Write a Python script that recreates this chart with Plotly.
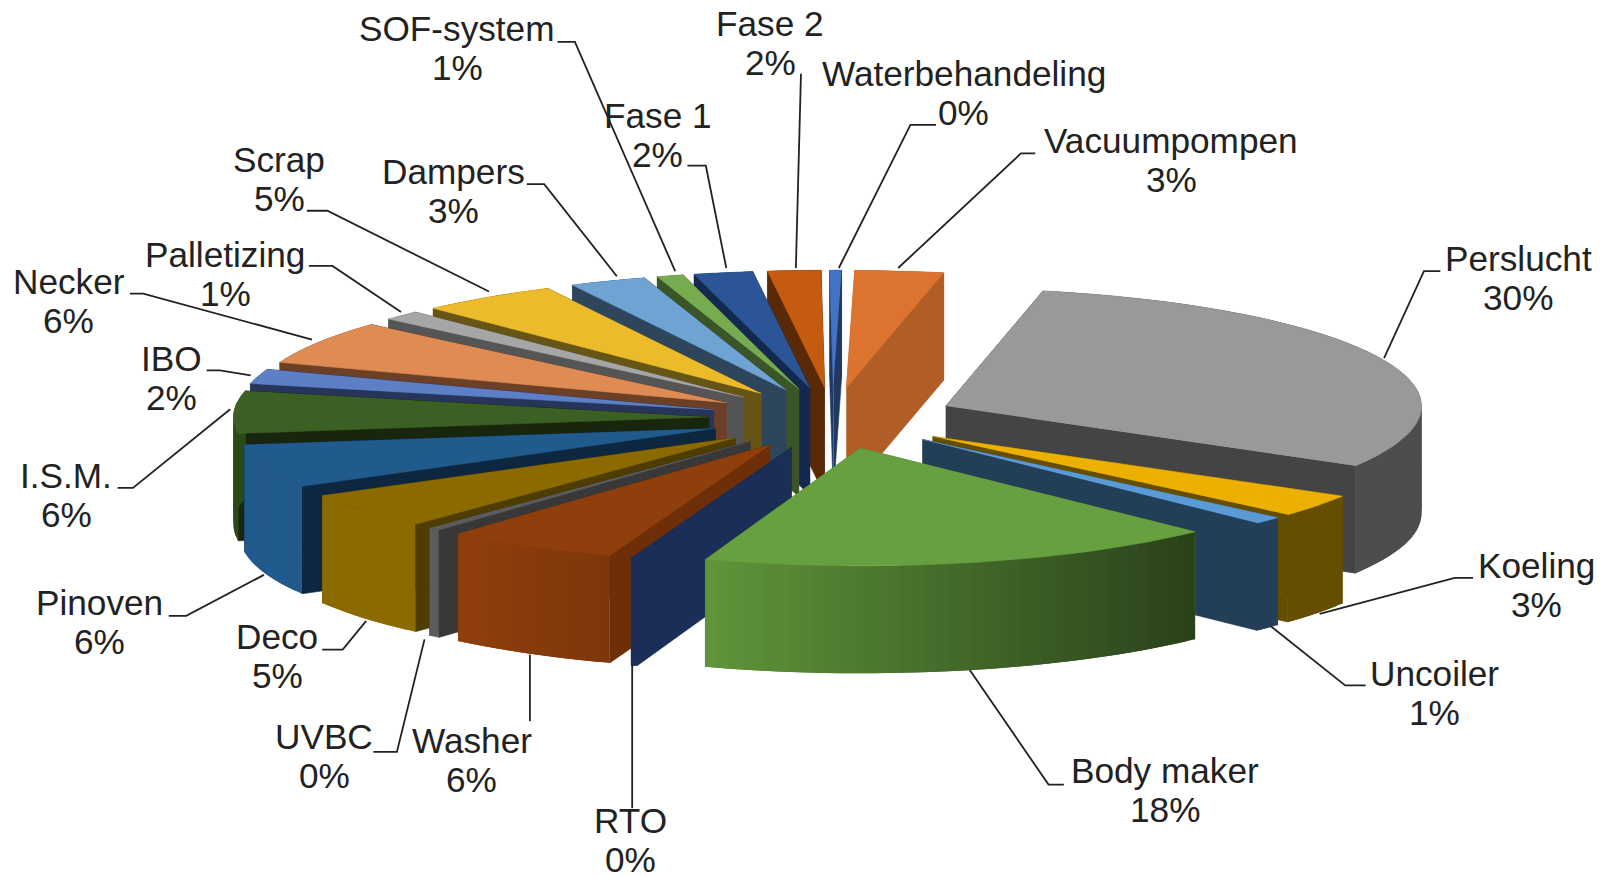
import numpy as np
from plotly import graph_objects as go

# clockwise from the top of the pie
categories = ["Vacuumpompen", "Perslucht", "Koeling", "Uncoiler", "Body maker", "RTO", "Washer",
              "UVBC", "Deco", "Pinoven", "I.S.M.", "IBO", "Necker", "Palletizing", "Scrap",
              "Dampers", "SOF-system", "Fase 1", "Fase 2", "Waterbehandeling"]
percent_labels = ["3%", "30%", "3%", "1%", "18%", "0%", "6%", "0%", "5%", "6%", "6%", "2%", "6%",
                  "1%", "5%", "3%", "1%", "2%", "2%", "0%"]
# shares, the labels are rounded
shares = [3.0, 30.2, 3.1, 1.0, 17.7, 0.2, 5.9, 0.4, 5.0, 6.0, 5.8, 2.0, 6.0, 1.3, 4.7, 2.6, 0.9, 2.0, 1.8, 0.4]

top_colors = ["#DC7430", "#999999", "#EBB000", "#5B9BD5", "#67A040", "#1B2E57", "#8F3F0B", "#5C5C5C",
              "#8B6A00", "#215A8C", "#3C6024", "#5D7FC6", "#DF8B54", "#A6A6A6", "#ECBB2C", "#6FA3D3",
              "#76AB50", "#2C5597", "#C55A11", "#4472C4"]
cut_colors = ["#B05E25", "#444444", "#654E00", "#233F57", "#4F7A31", "#1B2E57", "#6E2F08", "#383838",
              "#4E3C00", "#0E2740", "#17260D", "#263559", "#6B4027", "#555555", "#665514", "#2E465C",
              "#3A5527", "#14294F", "#5A2A08", "#1F3864"]
rim_left = ["#B05E25", "#4D4D4D", "#654E00", "#233F57", "#5F953A", "#1B2E57", "#8F3F0B", "#5C5C5C",
            "#8B6A00", "#215A8C", "#2C4A18", "#263559", "#6B4027", "#555555", "#665514", "#2E465C",
            "#3A5527", "#14294F", "#5A2A08", "#1F3864"]
rim_right = ["#B05E25", "#4D4D4D", "#654E00", "#233F57", "#2A411A", "#1B2E57", "#7E360A", "#5C5C5C",
             "#8B6A00", "#215A8C", "#2C4A18", "#263559", "#6B4027", "#555555", "#665514", "#2E465C",
             "#3A5527", "#14294F", "#5A2A08", "#1F3864"]

# where the text sits, and the bend of each leader line, in page pixels of the 1568 wide view
label_x = [1145, 1484, 1502, 1402, 1139, 616, 461, 317, 271, 97, 65, 168, 67, 220, 273, 443, 447, 643, 753, 942]
label_y = [156, 272, 572, 677, 772, 821, 743, 739, 641, 608, 484, 370, 294, 268, 175, 187, 47, 132, 42, 91]
leader_paths = [
    [(1012, 150), (998, 150), (878, 262)],
    [(1408, 265), (1392, 265), (1353, 350)],
    [(1440, 565), (1422, 565), (1290, 600)],
    [(1335, 670), (1315, 670), (1242, 612)],
    [(1040, 767), (1025, 767), (948, 655)],
    [(618, 790), (618, 650)],
    [(518, 705), (518, 640)],
    [(365, 735), (388, 735), (415, 625)],
    [(315, 635), (335, 635), (358, 607)],
    [(165, 602), (182, 602), (258, 562)],
    [(115, 477), (130, 477), (225, 400)],
    [(202, 362), (215, 362), (245, 367)],
    [(127, 287), (140, 287), (305, 332)],
    [(302, 260), (325, 260), (392, 305)],
    [(300, 206), (320, 206), (478, 285)],
    [(515, 180), (532, 180), (603, 270)],
    [(545, 41), (562, 41), (660, 265)],
    [(672, 162), (690, 162), (710, 262)],
    [(783, 72), (778, 262)],
    [(915, 122), (890, 122), (820, 262)],
]

SCALE = 1604 / 1568
CX, CY = 814 * SCALE, 409 * SCALE
RX, RY = 465 * SCALE, 115 * SCALE
DEPTH = 105 * SCALE
EXPLODE = 0.26
START_DEG = 1.0
FONT = "Liberation Sans, Arial, sans-serif"


def blend(c1, c2, t):
    a = [int(c1[i:i + 2], 16) for i in (1, 3, 5)]
    b = [int(c2[i:i + 2], 16) for i in (1, 3, 5)]
    return "#%02x%02x%02x" % tuple(round(p + (q - p) * t) for p, q in zip(a, b))


def add_poly(fig, xs, ys, color, width=0.6):
    fig.add_trace(go.Scatter(x=list(xs), y=list(ys), mode="lines", fill="toself", fillcolor=color,
                             line=dict(color=color, width=width), hoverinfo="skip", showlegend=False))


def draw_slice(fig, i, a0, a1):
    mid = (a0 + a1) / 2
    ox = CX + EXPLODE * RX * np.sin(mid)
    oy = CY - EXPLODE * RY * np.cos(mid)
    angles = np.linspace(a0, a1, max(3, int(np.degrees(a1 - a0) / 1.5) + 2))
    rim_x = ox + RX * np.sin(angles)
    rim_y = oy - RY * np.cos(angles)

    # the two cut faces
    for k in (0, -1):
        add_poly(fig, [ox, rim_x[k], rim_x[k], ox], [oy, rim_y[k], rim_y[k] + DEPTH, oy + DEPTH], cut_colors[i])

    # outer wall in overlapping strips, one polygon would cancel itself where the rim turns back
    x_lo, x_hi = rim_x.min(), rim_x.max()
    for k in range(len(angles) - 1):
        j = min(k + 3, len(angles))
        t = ((rim_x[k] + rim_x[k + 1]) / 2 - x_lo) / max(x_hi - x_lo, 1)
        add_poly(fig, np.r_[rim_x[k:j], rim_x[k:j][::-1]], np.r_[rim_y[k:j], rim_y[k:j][::-1] + DEPTH],
                 blend(rim_left[i], rim_right[i], t), width=0)

    add_poly(fig, np.r_[ox, rim_x], np.r_[oy, rim_y], top_colors[i])


edges = np.radians(START_DEG) + np.r_[0, np.cumsum(shares)] / sum(shares) * 2 * np.pi
mids = (edges[:-1] + edges[1:]) / 2

fig = go.Figure()
# back slices first, the front ones paint over them
for i in sorted(range(len(shares)), key=lambda n: -np.cos(mids[n])):
    draw_slice(fig, i, edges[i], edges[i + 1])

for path in leader_paths:
    fig.add_trace(go.Scatter(x=[p[0] * SCALE for p in path], y=[p[1] * SCALE for p in path], mode="lines",
                             line=dict(color="#222222", width=1.8), hoverinfo="skip", showlegend=False))

annotations = []
for name, pct, lx, ly in zip(categories, percent_labels, label_x, label_y):
    for text, off in ((name, -19.5), (pct, 19.5)):
        annotations.append(dict(x=lx * SCALE, y=ly * SCALE + off, text=text, showarrow=False, xanchor="center",
                                yanchor="middle", font=dict(family=FONT, size=35.2, color="#222222")))

fig.update_layout(
    width=1604,
    height=878,
    margin=dict(l=0, r=0, t=0, b=0),
    paper_bgcolor="white",
    plot_bgcolor="white",
    showlegend=False,
    annotations=annotations,
    xaxis=dict(range=[0, 1604], visible=False, fixedrange=True),
    yaxis=dict(range=[878, 0], visible=False, fixedrange=True),
)
fig.write_html("out.html", config={"displayModeBar": False}, post_script="document.body.style.margin='0';")
